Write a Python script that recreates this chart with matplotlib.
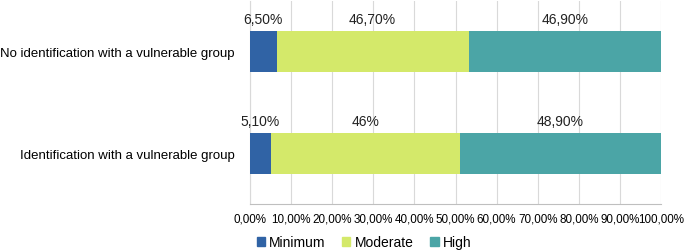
import matplotlib
matplotlib.use("Agg")
import matplotlib.pyplot as plt
from matplotlib.patches import Patch

categories = ["No identification with a vulnerable group", "Identification with a vulnerable group"]
series = ["Minimum", "Moderate", "High"]
minimum = [6.5, 5.1]
moderate = [46.7, 46.0]
high = [46.9, 48.9]
labels = [["6,50%", "46,70%", "46,90%"], ["5,10%", "46%", "48,90%"]]
xticks = [0, 10, 20, 30, 40, 50, 60, 70, 80, 90, 100]
xticklabels = ["0,00%", "10,00%", "20,00%", "30,00%", "40,00%", "50,00%", "60,00%", "70,00%", "80,00%", "90,00%", "100,00%"]
colors = ["#3063A5", "#D4E96A", "#4BA5A6"]

plt.rcParams['font.family'] = ['Liberation Sans', 'DejaVu Sans']

fig = plt.figure(figsize=(6.85, 2.53), dpi=100)
ax = fig.add_axes([250/685, 1-205/253, 411/685, 203/253])

ypos = [0, 1]
vals = [minimum, moderate, high]
left = [0, 0]
for s, v, c in zip(series, vals, colors):
    ax.barh(ypos, v, left=left, height=0.4, color=c, label=s, zorder=3)
    for i in range(2):
        ax.text(left[i] + v[i] / 2, ypos[i] - 0.25, labels[i][series.index(s)],
                ha='center', va='bottom', fontsize=10, color='#222222')
    left = [l + x for l, x in zip(left, v)]

ax.set_xlim(0, 100)
ax.set_ylim(1.5, -0.5)
ax.set_yticks(ypos)
ax.set_yticklabels(categories, fontsize=9.5)
ax.set_xticks(xticks)
ax.set_xticklabels(xticklabels, fontsize=8.4)
ax.tick_params(axis='x', length=0, pad=6)
ax.tick_params(axis='y', length=0, pad=11)
ax.grid(axis='x', color='#D9D9D9', linewidth=0.8, zorder=0)
for sp in ['top', 'right']:
    ax.spines[sp].set_visible(False)
ax.spines['left'].set_color('#D9D9D9')
ax.spines['bottom'].set_color('#BFBFBF')

handles = [Patch(color=c, label=s) for s, c in zip(series, colors)]
fig.legend(handles=handles, loc='center left', bbox_to_anchor=(244/685, 1-243/253), ncol=3,
           frameon=False, fontsize=10, handlelength=0.6, handleheight=0.6,
           handletextpad=0.3, columnspacing=1.2)

fig.savefig("out.png", dpi=100)
